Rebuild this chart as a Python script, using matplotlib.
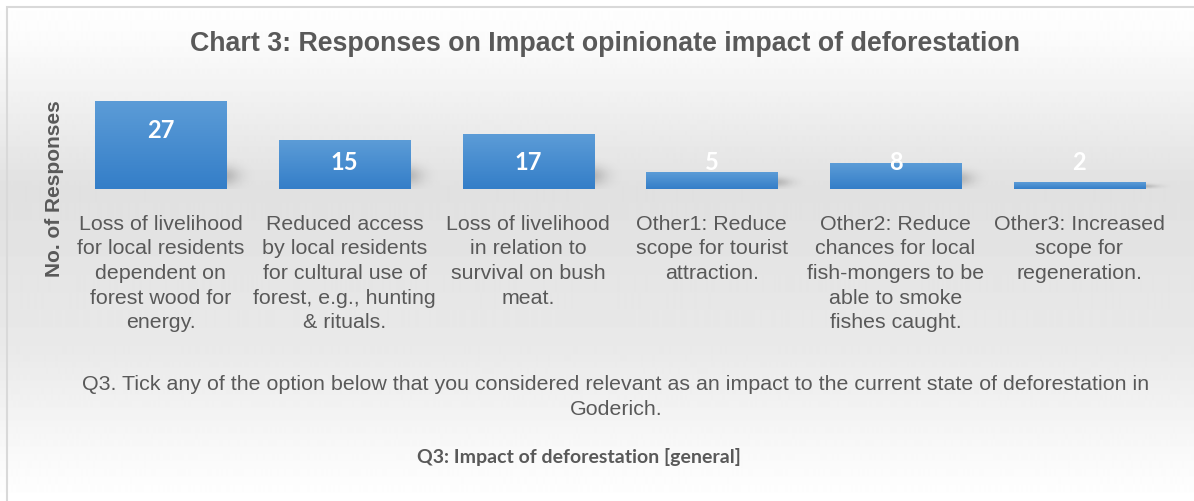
import numpy as np
import matplotlib.pyplot as plt
from matplotlib.patches import Rectangle

categories = [
    "Loss of livelihood\nfor local residents\ndependent on\nforest wood for\nenergy.",
    "Reduced access\nby local residents\nfor cultural use of\nforest, e.g., hunting\n& rituals.",
    "Loss of livelihood\nin relation to\nsurvival on bush\nmeat.",
    "Other1: Reduce\nscope for tourist\nattraction.",
    "Other2: Reduce\nchances for local\nfish-mongers to be\nable to smoke\nfishes caught.",
    "Other3: Increased\nscope for\nregeneration.",
]
responses = [27, 15, 17, 5, 8, 2]

title = "Chart 3: Responses on Impact opinionate impact of deforestation"
question = ("Q3. Tick any of the option below that you considered relevant as an impact "
            "to the current state of deforestation in\nGoderich.")
subtitle = "Q3: Impact of deforestation [general]"

grey = "#595959"
arial = "Liberation Sans"

fig = plt.figure(figsize=(11.94, 5.01), dpi=100)

# soft grey background, light at top and bottom
bg = fig.add_axes([0, 0, 1, 1], zorder=-10)
t = np.linspace(0, 1, 501)
shade = np.interp(t, [0, 0.08, 0.38, 0.7, 0.9, 1], [1.0, 0.985, 0.88, 0.915, 0.975, 1.0])
bg.imshow(np.repeat(shade[:, None], 2, axis=1), cmap="gray", vmin=0, vmax=1,
          aspect="auto", extent=[0, 1, 0, 1], origin="upper")
bg.add_patch(Rectangle((7 / 1194, -0.1), 1.2, 1 - 7 / 501 + 0.1, fill=False,
                       edgecolor="#d9d9d9", linewidth=1.5))
bg.set_xlim(0, 1)
bg.set_ylim(0, 1)
bg.axis("off")

ax = fig.add_axes([69 / 1194, 1 - 188.5 / 501, 1102 / 1194, 97 / 501])
ax.set_xlim(-0.5, len(responses) - 0.5)
ax.set_ylim(0, 30)
ax.patch.set_alpha(0)
for s in ax.spines.values():
    s.set_visible(False)

x = np.arange(len(responses))
w = 0.715
bars = ax.bar(x, responses, width=w, color="none", edgecolor="none", zorder=3)

# vertical blue gradient inside each bar
grad = np.linspace(0, 1, 100)[:, None]
top = np.array([92, 156, 215]) / 255
bot = np.array([52, 126, 200]) / 255
img = top[None, None, :] * (1 - grad[:, :, None]) + bot[None, None, :] * grad[:, :, None]

# blurred shadow blob, darkest next to the bar's lower right edge
sx = np.linspace(0, 1, 80)[None, :]
sy = np.linspace(1, 0, 60)[:, None]
blob = np.zeros((60, 80, 4))
blob[..., 3] = 0.2 * np.exp(-(sx / 0.4) ** 2) * np.exp(-((sy - 0.4) / 0.3) ** 2)

for b in bars:
    x0, h = b.get_x(), b.get_height()
    im = ax.imshow(img, extent=[x0, x0 + w, 0, h], aspect="auto", zorder=3,
                   origin="upper")
    im.set_clip_path(b)
    ax.imshow(blob, extent=[x0 + w - 0.02, x0 + w + 0.2, 0, min(h, 10)],
              aspect="auto", zorder=2, origin="upper")

# value labels
for xi, v in zip(x, responses):
    ax.text(xi, max(v - 9.2, 7.9), str(v), ha="center", va="center", color="white",
            fontsize=17, fontweight="bold", family="Lato", zorder=5)

ax.set_xticks(x, categories, fontsize=15.4, color=grey, family=arial, linespacing=1.37)
ax.tick_params(axis="x", length=0, pad=19)
ax.set_yticks([])

fig.text(605 / 1194, 1 - 44 / 501, title, ha="center", va="center", fontsize=19.3,
         fontweight="bold", color=grey, family=arial)
fig.text(55 / 1194, 1 - 189 / 501, "No. of Responses", rotation=90, ha="center",
         va="center", fontsize=15, fontweight="bold", color=grey, family=arial)
fig.text(616 / 1194, 1 - 397 / 501, question, ha="center", va="center", fontsize=15.4,
         color=grey, family=arial, linespacing=1.35)
fig.text(579 / 1194, 1 - 457 / 501, subtitle, ha="center", va="center", fontsize=14,
         fontweight="bold", color=grey, family="Lato")

fig.savefig("out.png", dpi=100)
